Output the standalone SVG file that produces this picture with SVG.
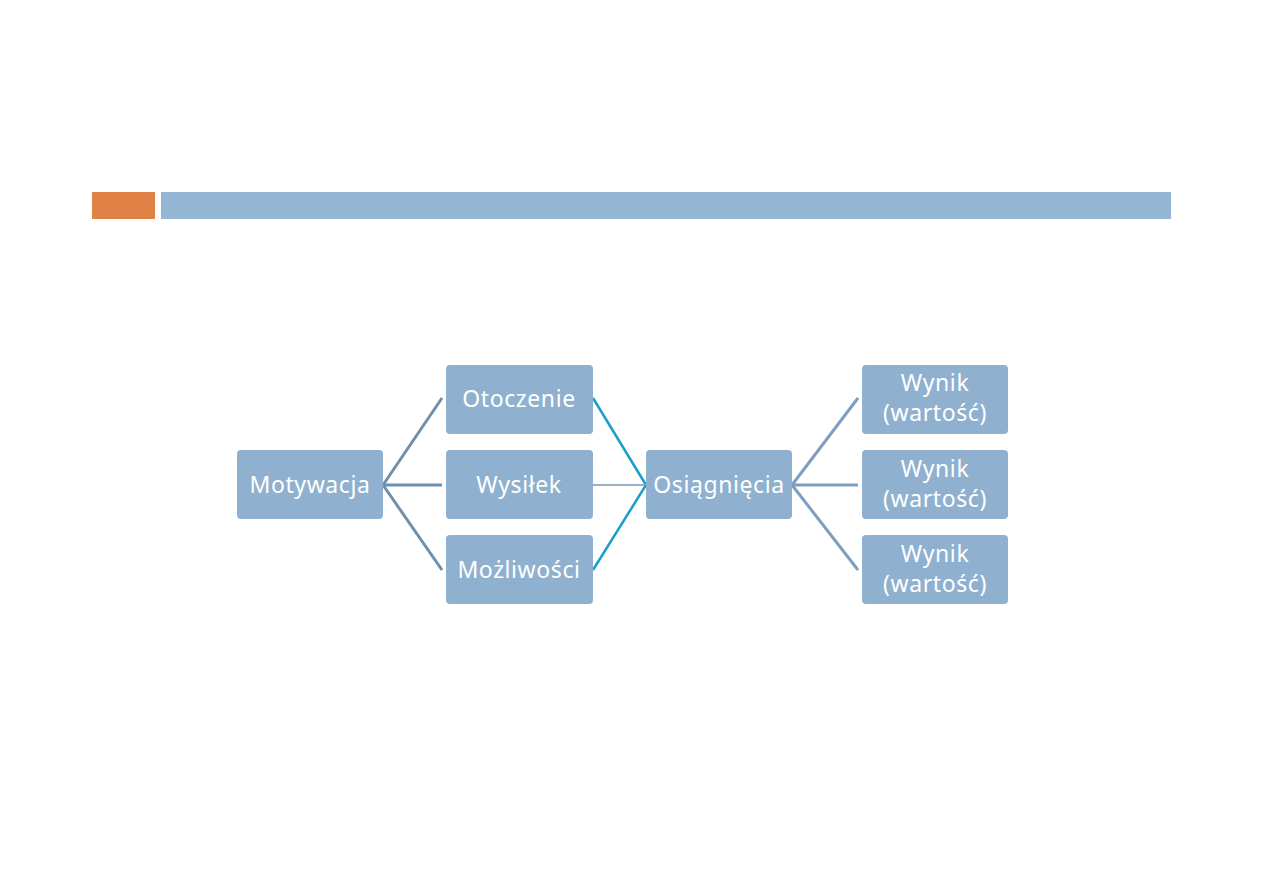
<svg xmlns="http://www.w3.org/2000/svg" width="1263" height="893" viewBox="0 0 1263 893">
<style>
.box{fill:#8fb1cf;}
.t{font-family:"Noto Sans","DejaVu Sans",sans-serif;font-size:23px;letter-spacing:0.6px;fill:#ffffff;text-anchor:middle;}
.c1{stroke:#6f90ad;stroke-width:3;fill:none;}
.c2{stroke:#1b9ec8;stroke-width:2.5;fill:none;}
.c3{stroke:#7e9ec0;stroke-width:3;fill:none;}
.cm{stroke:#9ab3c8;stroke-width:2;fill:none;}
</style>
<rect width="1263" height="893" fill="#ffffff"/>
<rect x="92" y="192" width="63" height="27" fill="#e08146"/>
<rect x="161" y="192" width="1010" height="27" fill="#94b5d3"/>
<g id="connectors">
<path class="c1" d="M383 485 L442 398"/>
<path class="c1" d="M383 485 L442 485"/>
<path class="c1" d="M383 485 L442 570"/>
<path class="c2" d="M593 398 L646 485"/>
<path class="cm" d="M593 485 L646 485"/>
<path class="c2" d="M593 570 L646 485"/>
<path class="c3" d="M792 485 L858 398"/>
<path class="c3" d="M792 485 L858 485"/>
<path class="c3" d="M792 485 L858 570"/>
</g>
<g id="motywacja"><rect class="box" x="237" y="450" width="146" height="69" rx="4"/><text class="t" x="310" y="493">Motywacja</text></g>
<g id="otoczenie"><rect class="box" x="446" y="365" width="147" height="69" rx="4"/><text class="t" x="519" y="407">Otoczenie</text></g>
<g id="wysilek"><rect class="box" x="446" y="450" width="147" height="69" rx="4"/><text class="t" x="519" y="493">Wysiłek</text></g>
<g id="mozliwosci"><rect class="box" x="446" y="535" width="147" height="69" rx="4"/><text class="t" x="519" y="578">Możliwości</text></g>
<g id="osiagniecia"><rect class="box" x="646" y="450" width="146" height="69" rx="4"/><text class="t" x="719" y="493">Osiągnięcia</text></g>
<g id="wynik1"><rect class="box" x="862" y="365" width="146" height="69" rx="4"/><text class="t" x="935" y="391">Wynik</text><text class="t" x="935" y="421">(wartość)</text></g>
<g id="wynik2"><rect class="box" x="862" y="450" width="146" height="69" rx="4"/><text class="t" x="935" y="477">Wynik</text><text class="t" x="935" y="507">(wartość)</text></g>
<g id="wynik3"><rect class="box" x="862" y="535" width="146" height="69" rx="4"/><text class="t" x="935" y="562">Wynik</text><text class="t" x="935" y="592">(wartość)</text></g>
</svg>
